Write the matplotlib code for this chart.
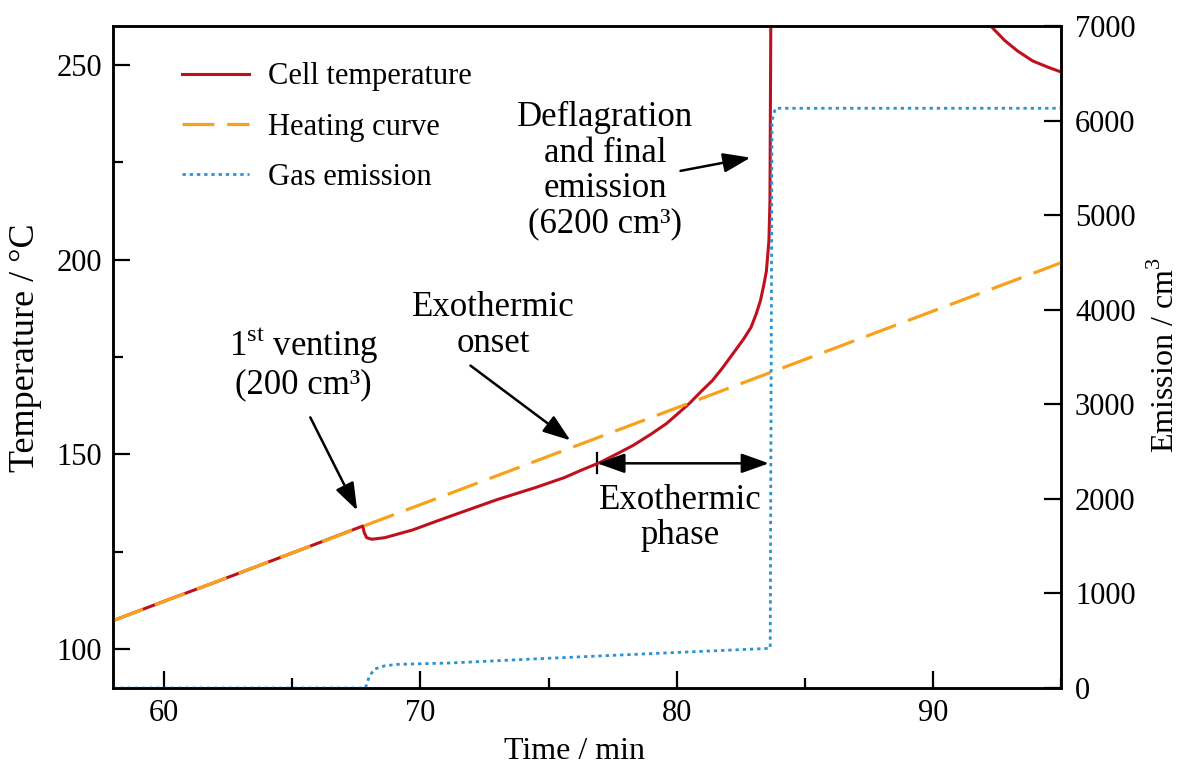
import numpy as np
import matplotlib
matplotlib.use("Agg")
import matplotlib.pyplot as plt
from matplotlib.ticker import MultipleLocator

plt.rcParams['font.family'] = ['Liberation Serif', 'DejaVu Serif']
plt.rcParams['mathtext.fontset'] = 'custom'
plt.rcParams['mathtext.rm'] = 'Liberation Serif'

# --- data ---
heat_time = [58.0, 95.0]
heat_temp = [107.3, 199.2]

cell_time = [58.0, 60.0, 62.0, 64.0, 66.0, 67.75, 67.8, 67.9, 68.1, 68.6, 69.7,
             70.4, 71.2, 73.0, 74.5, 75.6, 76.3, 77.0, 77.6, 78.3, 79.0, 79.6,
             80.0, 80.5, 80.9, 81.4, 81.8, 82.2, 82.6, 82.9, 83.1, 83.27, 83.4,
             83.5, 83.6, 83.64, 83.68, np.nan,
             91.9, 92.3, 92.8, 93.3, 93.9, 94.5, 95.0]
cell_temp = [107.3, 112.3, 117.2, 122.2, 127.2, 131.6, 130.0, 128.6, 128.2, 128.6, 130.6,
             132.3, 134.2, 138.4, 141.5, 144.0, 146.0, 147.9, 149.9, 152.3, 155.2, 157.9,
             160.2, 163.1, 165.8, 169.0, 172.3, 175.9, 179.5, 182.6, 186.0, 189.5, 193.5,
             197.0, 204.9, 215.0, 270.0, np.nan,
             262.0, 259.7, 256.3, 253.6, 251.0, 249.4, 248.2]

gas_time = [58.0, 67.85, 68.0, 68.2, 68.6, 69.1, 71.2, 74.3, 79.5, 83.65, 83.72, 83.85, 95.0]
gas_vol = [0, 0, 120, 200, 235, 250, 265, 306, 370, 420, 6000, 6130, 6130]

red = '#c0101e'
orange = '#f7a11d'
blue = '#2a93d5'

fig = plt.figure(figsize=(11.81, 7.69), dpi=100)
ax = fig.add_axes([0.0957, 0.1053, 0.8027, 0.8609])
ax2 = ax.twinx()

l1, = ax.plot(cell_time, cell_temp, color=red, lw=2.2, label='Cell temperature', zorder=3)
l2, = ax.plot(heat_time, heat_temp, color=orange, lw=2.3, dashes=(10, 4), label='Heating curve', zorder=4)
l3, = ax2.plot(gas_time, gas_vol, color=blue, lw=2.0, dashes=(1.2, 1.4), label='Gas emission')

ax.set_xlim(58, 95)
ax.set_ylim(90, 260)
ax2.set_ylim(0, 7000)

ax.xaxis.set_major_locator(MultipleLocator(10))
ax.xaxis.set_minor_locator(MultipleLocator(5))
ax.yaxis.set_major_locator(MultipleLocator(50))
ax.yaxis.set_minor_locator(MultipleLocator(25))
ax2.yaxis.set_major_locator(MultipleLocator(1000))

ax.tick_params(which='major', direction='in', length=12, width=1.6, labelsize=22, pad=8)
ax.tick_params(which='minor', direction='in', length=7, width=1.6)
ax2.tick_params(which='major', direction='in', length=12, width=1.6, labelsize=22, pad=10)
for a in (ax, ax2):
    for sp in a.spines.values():
        sp.set_linewidth(1.8)

ax.set_xlabel('Time / min', fontsize=23)
ax.set_ylabel('Temperature / \u00b0C', fontsize=26)
ax2.set_ylabel('Emission / cm$^3$', fontsize=23, rotation=90)
ax2.yaxis.label.set_rotation_mode('default')
ax2.yaxis.label.set_horizontalalignment('center')
ax2.yaxis.label.set_verticalalignment('center')
ax.xaxis.set_label_coords(0.487, -0.074)
ax.yaxis.set_label_coords(-0.075, 0.514)
ax2.yaxis.set_label_coords(1.11, 0.503)

ax.legend(handles=[l1, l2, l3], loc='upper left', bbox_to_anchor=(0.073, 0.945),
          frameon=False, fontsize=22, handlelength=2.2, handletextpad=0.6,
          labelspacing=0.7, borderpad=0, borderaxespad=0)

# --- annotations ---
txt = dict(fontsize=25, ha='center', va='center', linespacing=1.1)
arr = dict(arrowstyle='-|>,head_length=0.7,head_width=0.25', color='black', lw=1.8,
           shrinkA=0, shrinkB=0, mutation_scale=24)

ax.annotate('', xy=(67.53, 135.6), xytext=(65.70, 159.5), arrowprops=arr)
ax.text(65.42, 173.3, '1$^{\\mathrm{st}}$ venting\n(200 cm\u00b3)', **txt)

ax.annotate('', xy=(75.85, 153.6), xytext=(71.95, 172.8), arrowprops=arr)
ax.text(72.84, 183.1, 'Exothermic\nonset', **txt)

ax.annotate('', xy=(82.88, 226.2), xytext=(80.15, 222.8), arrowprops=arr)
ax.text(77.22, 222.8, 'Deflagration\nand final\nemission\n(6200 cm\u00b3)', **txt)

ax.annotate('', xy=(83.6, 147.7), xytext=(76.9, 147.7),
            arrowprops=dict(arrowstyle='<|-|>,head_length=0.7,head_width=0.25', color='black',
                            lw=1.8, shrinkA=0, shrinkB=0, mutation_scale=24))
ax.plot([76.9, 76.9], [145.2, 150.4], color='black', lw=1.6)
ax.text(80.15, 133.6, 'Exothermic\nphase', **txt)

fig.savefig('out.png', dpi=100)
